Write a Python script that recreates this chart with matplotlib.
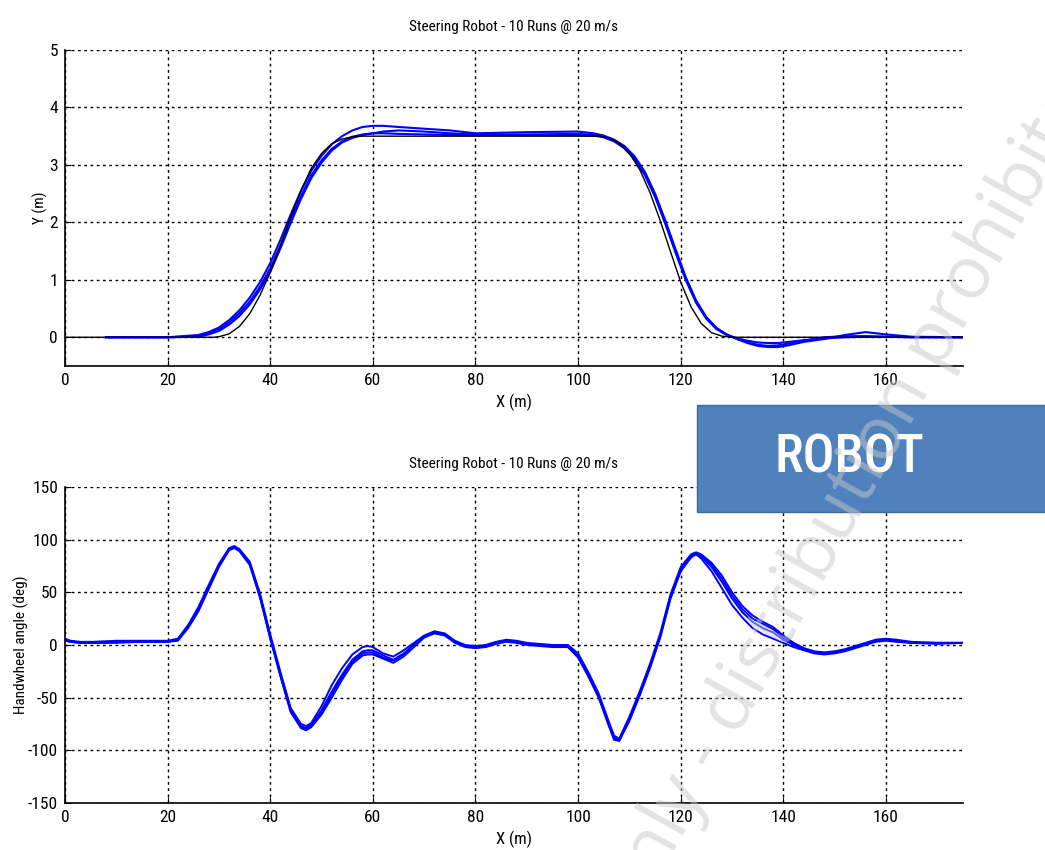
#! /usr/bin/python3

import matplotlib as mpl
mpl.use('Agg') # Headless
import matplotlib.pyplot as plt
from matplotlib.patches import Rectangle

plt.rcParams['font.family'] = ['Roboto Condensed', 'DejaVu Sans']
plt.rcParams['axes.unicode_minus'] = False

title = "Steering Robot - 10 Runs @ 20 m/s"

# Lateral path: reference (black) and robot runs (blue), X in m, Y in m
xRef = [0, 29, 30, 32, 34, 36, 38, 40, 42, 44, 46, 48, 50, 52, 54, 56, 58, 60, 104, 106, 108, 110, 112, 114, 116, 118, 120, 122, 124, 126, 128, 130, 175]
yRef = [0, 0, 0.01, 0.06, 0.19, 0.41, 0.73, 1.13, 1.6, 2.1, 2.56, 2.94, 3.2, 3.37, 3.45, 3.49, 3.5, 3.5, 3.5, 3.47, 3.38, 3.2, 2.92, 2.52, 2.03, 1.49, 0.96, 0.53, 0.24, 0.08, 0.02, 0.0, 0.0]

xPath = [8, 20, 26, 28, 30, 32, 34, 36, 38, 40, 42, 44, 46, 48, 50, 52, 54, 56, 58, 60, 62, 65, 70, 75, 80, 90, 100, 103, 105, 107,
         109, 111, 113, 115, 117, 119, 121, 123, 125, 127, 129, 131, 133, 135, 137, 139, 141, 144, 148, 152, 156, 160, 165, 175]
yRun1 = [0, 0, 0.02, 0.07, 0.14, 0.26, 0.42, 0.62, 0.88, 1.2, 1.6, 2.04, 2.46, 2.82, 3.08, 3.28, 3.41, 3.49, 3.53, 3.55, 3.55, 3.54, 3.53, 3.52, 3.52, 3.52, 3.52, 3.51, 3.48, 3.41,
         3.29, 3.1, 2.82, 2.44, 1.97, 1.47, 0.99, 0.6, 0.32, 0.14, 0.04, -0.02, -0.06, -0.09, -0.1, -0.1, -0.08, -0.05, -0.02, 0.0, 0.01, 0.01, 0.0, 0.0]
yRun2 = [0, 0, 0.04, 0.09, 0.17, 0.3, 0.47, 0.69, 0.96, 1.29, 1.7, 2.14, 2.55, 2.9, 3.16, 3.36, 3.5, 3.6, 3.66, 3.68, 3.68, 3.66, 3.63, 3.6, 3.55, 3.57, 3.58, 3.55, 3.51, 3.44,
         3.33, 3.15, 2.88, 2.5, 2.03, 1.53, 1.04, 0.64, 0.35, 0.16, 0.05, -0.03, -0.1, -0.15, -0.17, -0.17, -0.14, -0.08, -0.03, 0.04, 0.09, 0.05, 0.01, 0.0]
yRun3 = [0, 0, 0.01, 0.05, 0.11, 0.22, 0.37, 0.57, 0.83, 1.14, 1.55, 1.99, 2.41, 2.77, 3.04, 3.25, 3.39, 3.47, 3.52, 3.55, 3.58, 3.6, 3.58, 3.55, 3.53, 3.53, 3.54, 3.52, 3.49, 3.42,
         3.31, 3.12, 2.85, 2.47, 2.0, 1.5, 1.02, 0.62, 0.34, 0.15, 0.04, -0.03, -0.09, -0.13, -0.15, -0.14, -0.11, -0.06, 0.0, 0.02, 0.02, 0.01, 0.0, 0.0]

# Handwheel angle in deg
xAng = [0, 1, 3, 6, 10, 15, 20, 22, 24, 26, 28, 30, 32, 33, 34, 36, 38, 40, 42, 44, 46, 47, 48, 50, 52, 54, 56, 58, 59, 60,
        62, 64, 66, 68, 70, 72, 74, 76, 78, 80, 82, 84, 86, 88, 90, 95, 98, 100, 102, 104, 106, 107, 108, 110, 112, 114, 116, 118, 120, 122,
        123, 124, 126, 128, 130, 132, 134, 136, 138, 140, 142, 144, 146, 148, 150, 152, 154, 156, 158, 160, 162, 165, 170, 175]
angRun1 = [5, 4, 2, 2, 3, 3, 3, 5, 18, 34, 55, 75, 91, 93, 90, 77, 47, 8, -28, -62, -77, -79, -76, -62, -44, -28, -14, -6, -5, -5,
           -10, -14, -8, 0, 8, 12, 10, 3, -1, -2, -1, 2, 4, 3, 1, -1, -1, -10, -28, -48, -75, -88, -90, -70, -46, -20, 9, 46, 72, 85,
           87, 84, 74, 60, 44, 31, 22, 16, 12, 5, 0, -4, -7, -8, -7, -5, -2, 1, 4, 5, 4, 2, 2, 2]
angRun2 = [6, 4, 3, 3, 4, 4, 4, 6, 19, 36, 57, 77, 92, 94, 91, 79, 49, 10, -26, -60, -75, -77, -74, -58, -38, -22, -9, -2, -1, -2,
           -8, -11, -5, 2, 9, 13, 11, 4, 0, -1, 0, 3, 5, 4, 2, 0, 0, -8, -26, -46, -73, -86, -89, -68, -44, -18, 11, 48, 74, 86,
           88, 86, 78, 66, 50, 37, 28, 22, 17, 9, 2, -3, -6, -7, -6, -4, -1, 2, 5, 6, 5, 3, 2, 2]
angRun3 = [4, 3, 2, 2, 2, 3, 3, 4, 16, 32, 53, 74, 90, 92, 89, 76, 45, 6, -30, -64, -79, -81, -78, -66, -50, -33, -18, -10, -9, -9,
           -13, -17, -11, -2, 7, 11, 9, 2, -2, -3, -2, 1, 3, 2, 0, -2, -2, -12, -30, -50, -77, -90, -91, -72, -48, -22, 7, 44, 70, 83,
           86, 82, 70, 54, 38, 26, 16, 10, 6, 2, -2, -5, -8, -9, -8, -6, -3, 0, 3, 4, 3, 2, 1, 2]
angRun4 = [5, 3, 2, 3, 3, 3, 3, 5, 17, 33, 54, 76, 91, 93, 90, 78, 46, 7, -29, -63, -78, -80, -77, -64, -47, -30, -16, -8, -7, -7,
           -12, -15, -9, 1, 8, 12, 10, 3, -1, -2, -1, 2, 4, 3, 1, -1, -1, -11, -29, -49, -76, -89, -91, -71, -47, -21, 8, 45, 71, 84,
           87, 85, 76, 63, 47, 34, 25, 20, 15, 7, 1, -4, -7, -8, -7, -5, -2, 1, 4, 5, 4, 2, 2, 2]

xTicks = [0, 20, 40, 60, 80, 100, 120, 140, 160]

fig = plt.figure(figsize=(10.45, 8.5), dpi=100)
ax1 = fig.add_axes([0.0622, 0.5694, 0.8593, 0.3718])
ax2 = fig.add_axes([0.0622, 0.0553, 0.8593, 0.3718])

ax1.plot(xRef, yRef, color='black', linewidth=1.0, zorder=3)
for y in (yRun1, yRun2, yRun3):
    ax1.plot(xPath, y, color='blue', linewidth=1.5, zorder=2)
ax1.set_ylim(-0.5, 5)
ax1.set_yticks([0, 1, 2, 3, 4, 5])
ax1.set_ylabel("Y (m)", fontsize=11, labelpad=1)

for a in (angRun1, angRun2, angRun3, angRun4):
    ax2.plot(xAng, a, color='blue', linewidth=1.4)
ax2.set_ylim(-150, 150)
ax2.set_yticks([-150, -100, -50, 0, 50, 100, 150])
ax2.set_ylabel("Handwheel angle (deg)", fontsize=11, labelpad=-1)

for ax in (ax1, ax2):
    ax.set_xlim(0, 175)
    ax.set_xticks(xTicks)
    ax.set_title(title, fontsize=11, pad=14)
    ax.set_xlabel("X (m)", fontsize=12, labelpad=4)
    ax.grid(True, color='black', linestyle=(0, (2, 2.5)), linewidth=1.0)
    ax.spines['top'].set_visible(False)
    ax.spines['right'].set_visible(False)
    ax.spines['left'].set_linewidth(1.2)
    ax.spines['bottom'].set_linewidth(1.2)
    ax.tick_params(direction='in', length=4, labelsize=12.5, pad=5)

# Banner box
fig.patches.append(Rectangle((0.667, 0.3976), 0.34, 0.1259, transform=fig.transFigure,
                             facecolor='#4f81bd', edgecolor='#3d6a9e', linewidth=1.0, zorder=5))
fig.text(0.813, 0.461, "ROBOT", color='white', fontsize=38, family='Roboto Condensed',
         weight='medium', ha='center', va='center', zorder=6)

# Watermark
fig.text(0.61, -0.08, "only - distribution prohibited", color='#c8c8c8', alpha=0.5,
         fontsize=53, family='Open Sans', rotation=61, rotation_mode='anchor',
         ha='left', va='baseline', zorder=10)

plt.savefig("out.png", dpi=100)
